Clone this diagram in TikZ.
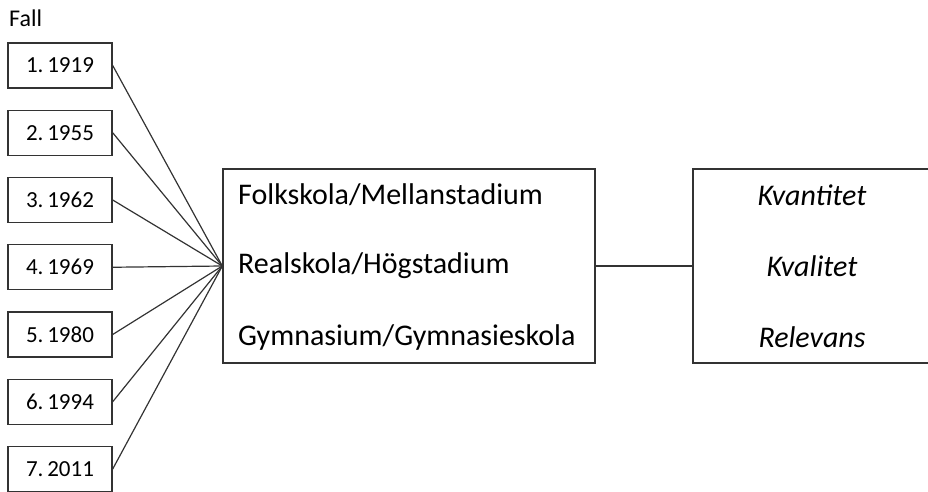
\documentclass[tikz,border=0pt]{standalone}
\usepackage{fontspec}
\setmainfont{Carlito}
\begin{document}
\begin{tikzpicture}[x=1pt,y=-1pt,
  line/.style={draw=black!80,line width=1.4pt},
  yearbox/.style={line,minimum width=104pt,minimum height=45pt,inner sep=0pt,font=\fontsize{23}{27}\selectfont},
  bigbox/.style={line,inner sep=0pt},
  bigtext/.style={inner sep=0pt,font=\fontsize{30}{36}\selectfont},
  restext/.style={inner sep=0pt,font=\fontsize{30}{36}\selectfont\itshape},
  conn/.style={draw=black!80,line width=1.2pt}]
\useasboundingbox (0,0) rectangle (928,492);
\clip (0,0) rectangle (928,492);
\node[anchor=west,inner sep=0pt,font=\fontsize{24}{28}\selectfont] (fall) at (9,18) {Fall};
\foreach \i/\t in {1/1919,2/1955,3/1962,4/1969,5/1980,6/1994,7/2011}{
  \node[yearbox] (y\i) at (60,{65.5+67.25*(\i-1)}) {\i.\,\t};
}
\node[bigbox,minimum width=372pt,minimum height=194pt] (mid) at (409,266) {};
\node[bigtext,anchor=west] (m1) at (238,195) {Folkskola/Mellanstadium};
\node[bigtext,anchor=west] (m2) at (238,266) {Realskola/Högstadium};
\node[bigtext,anchor=west] (m3) at (238,337) {Gymnasium/Gymnasieskola};
\node[bigbox,minimum width=240pt,minimum height=194pt] (res) at (813,266) {};
\node[restext] (r1) at (812,195) {Kvantitet};
\node[restext] (r2) at (812,266) {Kvalitet};
\node[restext] (r3) at (812,337) {Relevans};
\foreach \i in {1,...,7}{
  \draw[conn] (y\i.east) -- (mid.west);
}
\draw[conn] (mid.east) -- (res.west);
\end{tikzpicture}
\end{document}
